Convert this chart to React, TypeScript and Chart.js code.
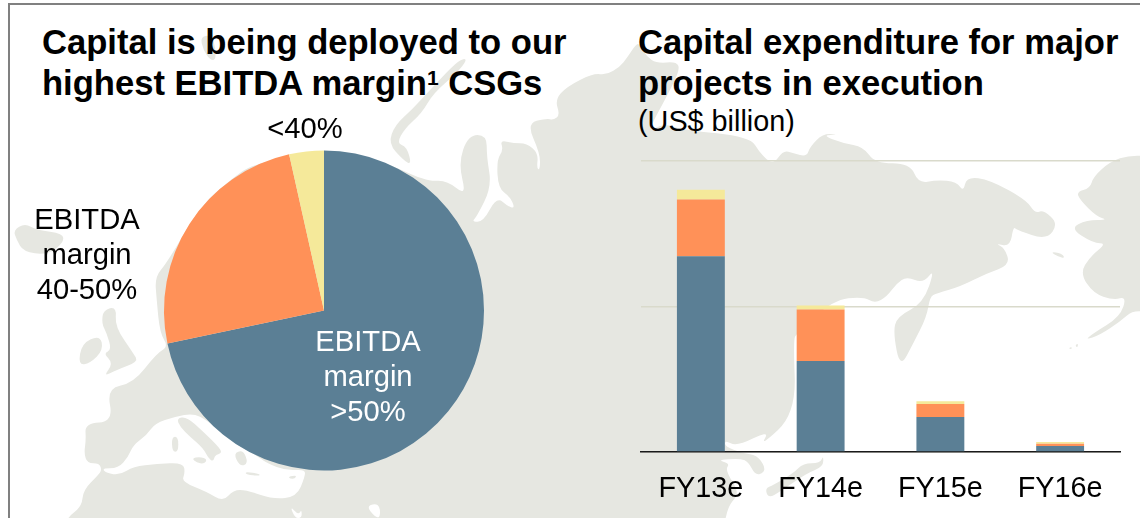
import React, { useEffect, useRef } from "react";
import { Chart, registerables } from "chart.js";

Chart.register(...registerables);

// ---- data ----
const marginLabels = ["EBITDA margin >50%", "EBITDA margin 40-50%", "<40%"];
const marginShares = [71.7, 24.8, 3.5];

const years = ["FY13e", "FY14e", "FY15e", "FY16e"];
const capexHighMargin = [13.45, 6.25, 2.4, 0.42];
const capexMidMargin = [3.9, 3.55, 0.9, 0.14];
const capexLowMargin = [0.68, 0.27, 0.18, 0.13];
const capexGridTicks = [0, 10, 20];

const BLUE = "#5B7F95";
const ORANGE = "#FF9158";
const YELLOW = "#F5E99A";
const LAND = "#E6E7E1";
const FONT = '"Liberation Sans", Arial, sans-serif';

// ---- decorative background map (traced in zoomed crop coordinates) ----
type P = number[];
type XY = [number, number];
const at = (ox: number, oy: number, p: P): XY[] => {
  const out: XY[] = [];
  for (let i = 0; i < p.length; i += 2) out.push([ox + p[i] / 3, oy + p[i + 1] / 3]);
  return out;
};
// closed path that rounds each corner, so traced coasts do not look faceted
const smooth = (pts: XY[]) => {
  const n = pts.length;
  const mid = (a: XY, b: XY): XY => [(a[0] + b[0]) / 2, (a[1] + b[1]) / 2];
  const s = mid(pts[n - 1], pts[0]);
  let d = `M${s[0].toFixed(1)} ${s[1].toFixed(1)}`;
  for (let i = 0; i < n; i++) {
    const m = mid(pts[i], pts[(i + 1) % n]);
    d += `Q${pts[i][0].toFixed(1)} ${pts[i][1].toFixed(1)} ${m[0].toFixed(1)} ${m[1].toFixed(1)}`;
  }
  return d + "Z";
};
const mainland: XY[] = [
  ...at(0, 518, [200, 30, 200, 0]),
  ...at(0, 440, [245, 200, 250, 150, 295, 105, 305, 90, 298, 70, 262, 70, 252, 40, 258, 0]),
  ...at(0, 0, [255, 1270, 340, 1265, 320, 1165, 400, 1150, 470, 1060, 505, 1040, 480, 1000, 470, 900, 465, 830, 500, 790, 600, 620, 690, 540, 760, 490, 972, 455]),
  ...at(380, 0, [0, 480, 140, 545, 200, 540, 260, 590, 235, 490, 265, 405, 320, 405, 320, 470, 335, 560, 290, 650, 275, 665, 310, 665, 350, 590, 385, 620, 405, 625, 390, 590, 355, 565, 350, 480, 370, 450, 360, 420, 400, 430, 440, 430, 475, 460, 470, 505, 480, 510, 480, 460, 440, 370, 500, 355, 520, 360, 540, 345, 525, 300, 560, 260, 640, 220, 680, 225, 720, 200, 740, 175, 770, 130]),
  ...at(620, 20, [60, 75, 80, 110, 110, 130, 170, 125, 180, 150, 140, 230, 80, 340, 130, 310, 190, 330, 390, 350, 420, 400, 460, 435, 490, 390, 520, 400, 560, 410, 570, 380, 610, 340, 660, 345]),
  ...at(760, 0, [185, 405, 250, 430, 310, 440, 345, 490, 450, 490, 475, 550, 530, 540, 590, 545, 610, 575, 620, 530, 690, 540, 800, 600, 825, 640, 850, 630, 895, 670, 860, 720, 770, 690, 760, 680, 750, 740, 705, 730, 735, 745, 750, 795, 680, 820, 600, 860, 530, 880, 510, 890, 500, 950, 460, 1030, 420, 1105, 400, 1000, 410, 950, 490, 910, 525, 805, 490, 850, 440, 830, 410, 850, 380, 890, 345, 910, 310, 890, 220, 900, 110, 1000, 100, 1020, 108, 1240, 0, 1340]),
  ...at(640, 430, [390, 0, 290, 50, 255, 30, 255, 50, 310, 70, 350, 75, 375, 110, 370, 130, 345, 135, 325, 95, 300, 85, 230, 90, 270, 100, 255, 120, 300, 190, 265, 225, 250, 300, 250, 340, 250, 340]),
  ...at(0, 518, [200, 60, 200, 60]),
];
const mediterranean = at(0, 440, [305, 85, 320, 100, 360, 105, 400, 80, 470, 72, 550, 68, 555, 100, 545, 125, 620, 155, 670, 185, 700, 150, 740, 150, 820, 178, 890, 170, 915, 110, 915, 88, 860, 92, 800, 70, 760, 40, 720, 20, 680, -10, 620, -60, 580, -80, 525, -70, 465, -50, 440, -15, 400, 15, 385, 50, 355, 85]);
const redSea = at(0, 440, [870, 198, 885, 234, 905, 234, 905, 208, 895, 225]);
const gulf = at(0, 440, [1100, 200, 1125, 190, 1140, 200, 1140, 234, 1125, 230]);
const islands: XY[][] = [
  at(0, 440, [530, -65, 560, -70, 610, -25, 660, 25, 665, 40, 645, 45, 640, 65, 625, 55, 610, 25, 570, -10, 540, -40]), // Italy
  at(0, 440, [575, 55, 600, 50, 622, 58, 612, 72, 590, 68]), // Sicily
  at(0, 440, [515, -10, 535, -10, 535, 35, 517, 35]), // Sardinia
  at(0, 440, [700, 40, 730, 30, 745, 70, 720, 80]), // Greece
  at(0, 440, [735, 95, 780, 102, 778, 108, 740, 104]), // Crete
  at(0, 440, [865, 110, 890, 106, 885, 116, 870, 116]), // Cyprus
  at(0, 0, [310, 930, 350, 920, 345, 980, 400, 1060, 415, 1085, 350, 1110, 310, 1130, 340, 1090, 310, 1060, 335, 1050, 320, 1000, 305, 970]), // Britain
  at(0, 0, [245, 1030, 300, 1005, 310, 1050, 270, 1090, 235, 1095]), // Ireland
  at(0, 0, [40, 690, 75, 670, 110, 690, 190, 700, 190, 730, 140, 765, 70, 755, 50, 720]), // Iceland
  at(0, 0, [600, 110, 640, 105, 650, 180, 630, 180, 610, 150]), // Svalbard
  at(380, 0, [265, 175, 235, 180, 150, 270, 95, 330, 45, 375, 25, 430, 70, 480, 95, 495, 80, 440, 50, 430, 75, 385, 125, 340, 160, 280, 230, 220]), // Novaya Zemlya
  at(640, 430, [550, 75, 540, 100, 490, 100, 460, 130, 400, 165, 375, 175, 385, 205, 420, 185, 500, 130, 550, 110]), // Japan
  at(760, 0, [1110, 465, 1050, 485, 1000, 530, 990, 565, 950, 575, 960, 600, 1010, 650, 1045, 660, 980, 660, 930, 685, 1000, 730, 1040, 730, 990, 770, 960, 820, 1000, 880, 1060, 900, 1100, 890, 1080, 950, 1000, 1000, 975, 1020, 1020, 1005, 1080, 965, 1120, 930, 1180, 940, 1180, 470]), // Alaska
  at(760, 0, [870, 755, 905, 760, 915, 775, 895, 770]),
  at(760, 0, [925, 1045, 935, 1040, 935, 1048]),
  at(760, 0, [945, 1035, 955, 1030, 952, 1044]),
];

const label = (
  left: number,
  top: number,
  width: number,
  lines: string[],
  color = "#000"
) => (
  <div
    style={{
      position: "absolute",
      left,
      top,
      width,
      textAlign: "center",
      fontFamily: FONT,
      fontSize: 29.2,
      lineHeight: "35px",
      color,
    }}
  >
    {lines.map((l) => (
      <div key={l}>{l}</div>
    ))}
  </div>
);

export default function App() {
  const pieRef = useRef<HTMLCanvasElement>(null);
  const barRef = useRef<HTMLCanvasElement>(null);

  useEffect(() => {
    const pie = new Chart(pieRef.current!, {
      type: "pie",
      data: {
        labels: marginLabels,
        datasets: [
          {
            data: marginShares,
            backgroundColor: [BLUE, ORANGE, YELLOW],
            borderWidth: 0,
          },
        ],
      },
      options: {
        animation: false,
        responsive: false,
        layout: { padding: 15 },
        plugins: { legend: { display: false }, tooltip: { enabled: false } },
      },
    });

    const mk = (lbl: string, data: number[], color: string) => ({
      label: lbl,
      data,
      backgroundColor: color,
      borderWidth: 0,
      stack: "s",
      categoryPercentage: 1,
      barPercentage: 0.4,
    });
    const bar = new Chart(barRef.current!, {
      type: "bar",
      data: {
        labels: years,
        datasets: [
          mk(marginLabels[0], capexHighMargin, BLUE),
          mk(marginLabels[1], capexMidMargin, ORANGE),
          mk(marginLabels[2], capexLowMargin, YELLOW),
        ],
      },
      options: {
        animation: false,
        responsive: false,
        layout: { padding: { left: 11, right: 20, top: 11, bottom: 0 } },
        plugins: { legend: { display: false }, tooltip: { enabled: false } },
        scales: {
          x: {
            stacked: true,
            grid: { display: false, drawTicks: false },
            border: { color: "#1a1a1a", width: 1.5 },
            ticks: {
              color: "#000",
              padding: 20,
              maxRotation: 0,
              font: { family: FONT, size: 28.8 },
            },
            afterFit: (s: any) => {
              s.height = 66;
            },
          },
          y: {
            stacked: true,
            min: capexGridTicks[0],
            max: capexGridTicks[capexGridTicks.length - 1],
            afterBuildTicks: (s: any) => {
              s.ticks = capexGridTicks.map((value) => ({ value }));
            },
            afterFit: (s: any) => {
              s.width = 0;
            },
            grid: {
              color: "#D9DACB",
              lineWidth: 1.5,
              drawTicks: false,
            },
            border: { display: false },
            ticks: { display: false },
          },
        },
      },
    });
    return () => {
      pie.destroy();
      bar.destroy();
    };
  }, []);

  const titleStyle: React.CSSProperties = {
    position: "absolute",
    fontFamily: FONT,
    fontWeight: "bold",
    fontSize: 34.6,
    lineHeight: "41px",
    color: "#000",
    whiteSpace: "nowrap",
  };

  return (
    <div
      style={{
        position: "fixed",
        left: 0,
        top: 0,
        width: 1140,
        height: 518,
        overflow: "hidden",
        background: "#fff",
      }}
    >
      <svg
        width={1140}
        height={518}
        style={{ position: "absolute", left: 0, top: 0 }}
      >
        <path d={smooth(mainland)} fill={LAND} />
        <path d={smooth(mediterranean)} fill="#fff" />
        <path d={smooth(redSea)} fill="#fff" />
        <path d={smooth(gulf)} fill="#fff" />
        {islands.map((p, i) => (
          <path key={i} d={smooth(p)} fill={LAND} />
        ))}
      </svg>
      <div
        style={{
          position: "absolute",
          left: 8,
          top: 3,
          right: -4,
          bottom: -4,
          borderTop: "2px solid #808080",
          borderLeft: "2px solid #808080",
        }}
      />
      <canvas
        ref={pieRef}
        width={350}
        height={351}
        style={{ position: "absolute", left: 149, top: 135 }}
      />
      <canvas
        ref={barRef}
        width={510}
        height={368}
        style={{ position: "absolute", left: 630, top: 150 }}
      />
      <div style={{ ...titleStyle, left: 42, top: 22 }}>
        Capital is being deployed to our
        <br />
        highest EBITDA margin
        <sup style={{ fontSize: 21, lineHeight: 0, verticalAlign: "10px" }}>1</sup> CSGs
      </div>
      <div style={{ ...titleStyle, left: 638, top: 22 }}>
        Capital expenditure for major
        <br />
        projects in execution
      </div>
      <div
        style={{
          position: "absolute",
          left: 638,
          top: 105,
          fontFamily: FONT,
          fontSize: 28.8,
          lineHeight: "32px",
          color: "#000",
        }}
      >
        (US$ billion)
      </div>
      {label(245, 111, 120, ["<40%"])}
      {label(17, 202, 140, ["EBITDA", "margin", "40-50%"])}
      {label(298, 324, 140, ["EBITDA", "margin", ">50%"], "#fff")}
    </div>
  );
}
